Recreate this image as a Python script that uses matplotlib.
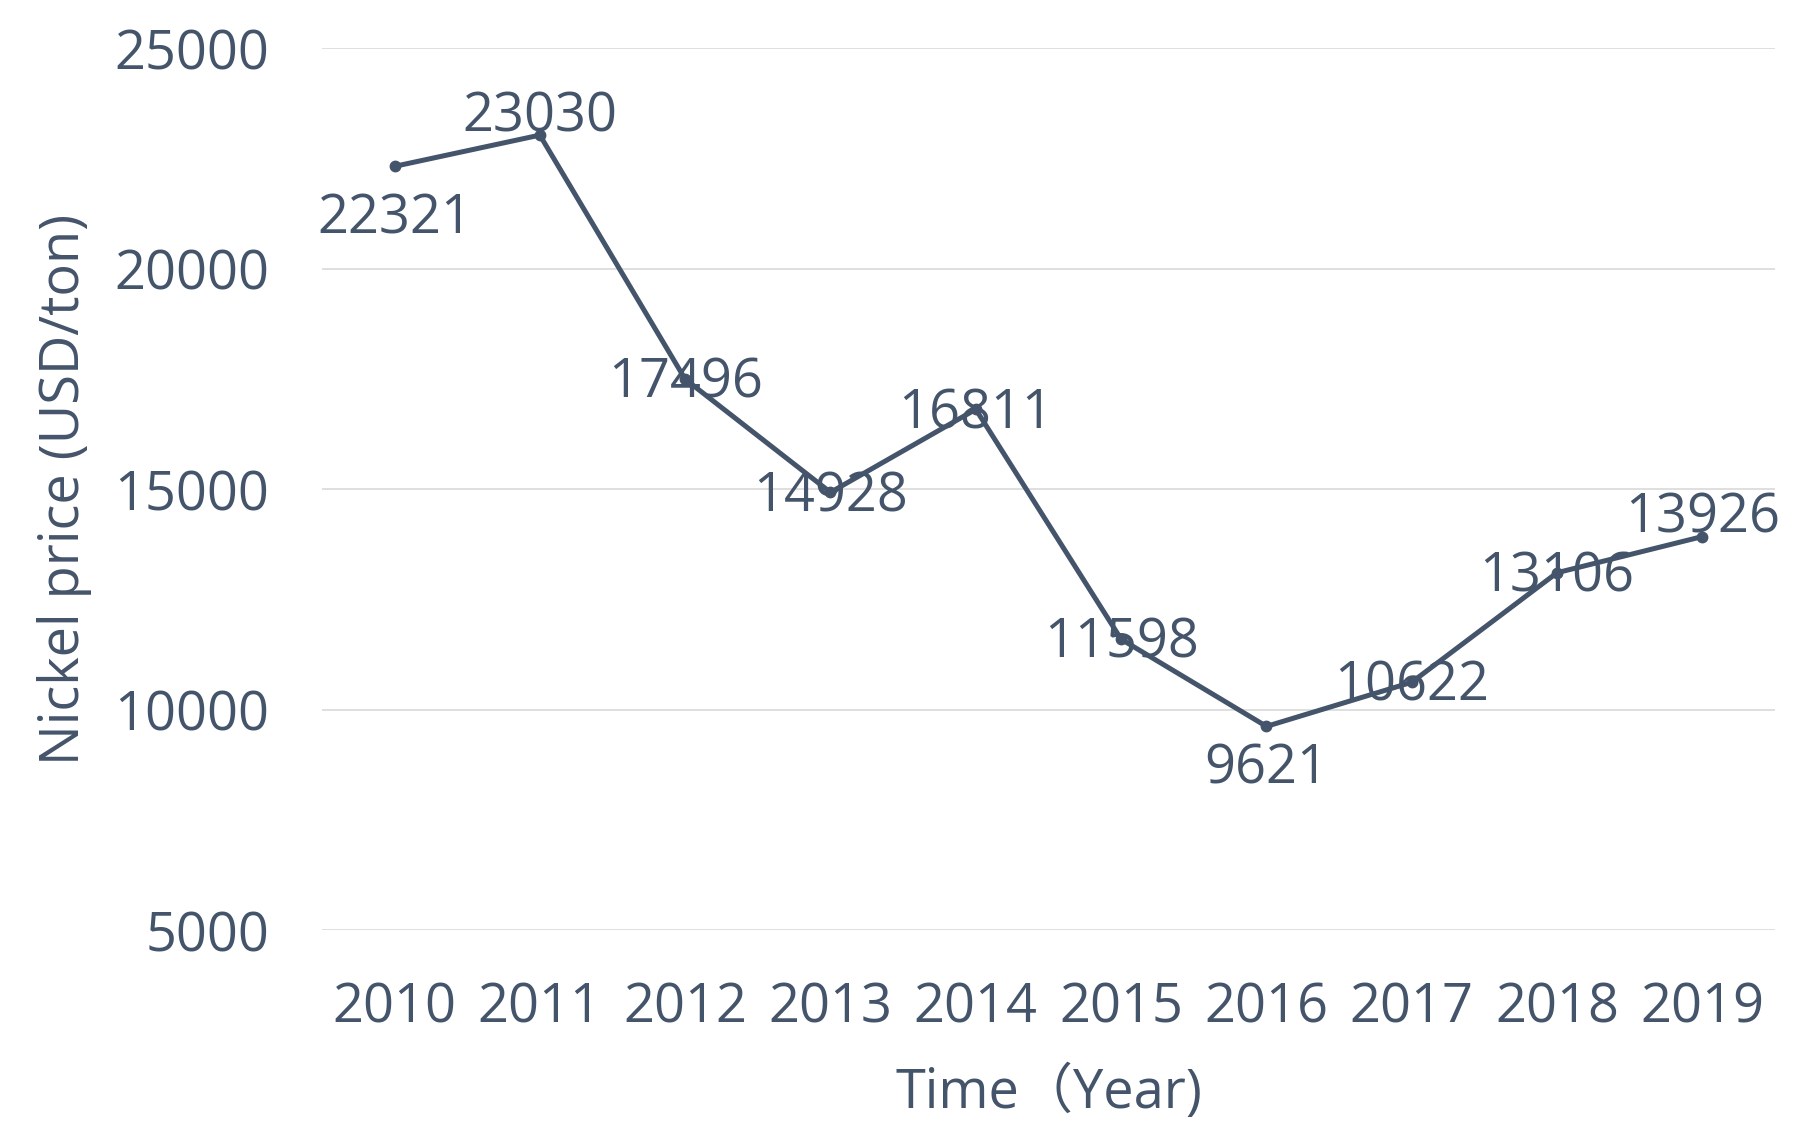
import matplotlib.pyplot as plt

years = ['2010', '2011', '2012', '2013', '2014', '2015', '2016', '2017', '2018', '2019']
price = [22321, 23030, 17496, 14928, 16811, 11598, 9621, 10622, 13106, 13926]
yticks = [5000, 10000, 15000, 20000, 25000]

# label offset in points: negative = below the point
label_dy = [-38, 13, -3, -3, -3, -3, -31, -3, -3, 13]

ink = '#44546A'
fs = 39
plt.rcParams['font.family'] = ['Open Sans', 'Noto Sans CJK SC', 'DejaVu Sans']

fig = plt.figure(figsize=(17.93, 11.22), dpi=100)
ax = fig.add_axes([0.1795, 0.171, 0.8105, 0.786])

x = list(range(len(years)))
ax.plot(x, price, color=ink, lw=3.6, marker='o', ms=7.5, zorder=3)

for i, v in enumerate(price):
    ax.annotate(str(v), (i, v), xytext=(0, label_dy[i]), textcoords='offset points',
                ha='center', va='center', fontsize=fs, color=ink, zorder=4)

ax.set_xlim(-0.5, len(years) - 0.5)
ax.set_ylim(5000, 25000)
ax.set_xticks(x)
ax.set_xticklabels(years)
ax.set_yticks(yticks)
ax.tick_params(length=0, labelsize=fs, labelcolor=ink)
ax.tick_params(axis='x', pad=36)
ax.tick_params(axis='y', pad=38)
ax.grid(axis='y', color='#D9D9D9', lw=1.2)
ax.set_axisbelow(True)
for s in ax.spines.values():
    s.set_visible(False)

ax.set_ylabel('Nickel price (USD/ton)', fontsize=fs, color=ink, labelpad=16)
ax.set_xlabel('Time（Year)', fontsize=fs, color=ink, labelpad=22)

fig.savefig('out.png')
